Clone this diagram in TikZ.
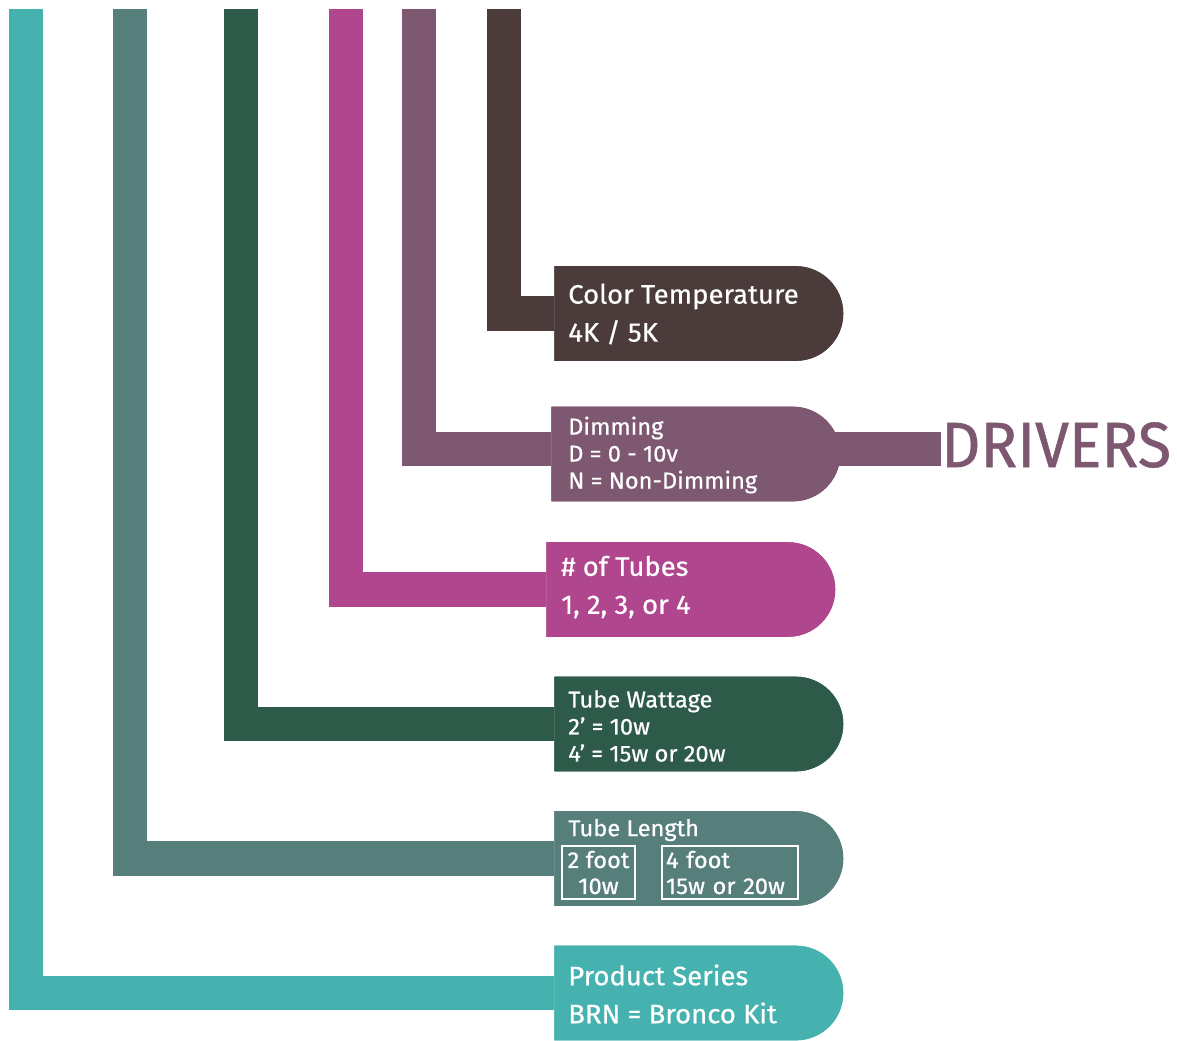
\documentclass[tikz,border=0pt]{standalone}
\usepackage{fontspec}
\setmainfont{Fira Sans}[FakeStretch=1.03, FakeBold=0.6]
\newfontfamily\drvfont{Fira Sans}[FakeStretch=0.95, FakeBold=0.8]
\usetikzlibrary{shapes.misc}
\definecolor{cteal}{HTML}{45B2B0}
\definecolor{cslate}{HTML}{567F7C}
\definecolor{cgreen}{HTML}{2E5A4A}
\definecolor{cmag}{HTML}{B0468E}
\definecolor{cpurp}{HTML}{7E5870}
\definecolor{cbrown}{HTML}{4B3B3B}
\tikzset{
  conn/.style={line width=25.8pt, line join=miter, line cap=butt},
  pill/.style={rounded rectangle, rounded rectangle left arc=none, inner sep=0pt,
    minimum width=216.75pt, minimum height=71pt, anchor=west, draw=none},
  bigtxt/.style={text=white, align=left, anchor=west, inner sep=0pt,
    font=\fontsize{20}{28.5}\selectfont},
  smalltxt/.style={text=white, align=left, anchor=west, inner sep=0pt,
    font=\fontsize{17.2}{20.25}\selectfont},
  subbox/.style={draw=white, line width=1.9pt, inner sep=0pt, text=white,
    font=\fontsize{17.2}{19.5}\selectfont, minimum height=39.75pt},
}
\begin{document}
\begin{tikzpicture}[x=0.75pt, y=-0.75pt]
\useasboundingbox[fill=white] (0,0) rectangle (1177,1040);
% top ends of the vertical bands
\coordinate (t1) at (26,9);
\coordinate (t2) at (130,9);
\coordinate (t3) at (241,9);
\coordinate (t4) at (346,9);
\coordinate (t5) at (419,9);
\coordinate (t6) at (504,9);
% boxes
\node[pill, fill=cbrown] (ct) at (554,313.5) {};
\node[pill, fill=cpurp]  (dim) at (551,454) {};
\node[pill, fill=cmag]   (tub) at (546,589.5) {};
\node[pill, fill=cgreen] (wat) at (554,724) {};
\node[pill, fill=cslate] (len) at (554,858.5) {};
\node[pill, fill=cteal]  (ser) at (554,993) {};
% connectors
\draw[conn, cbrown] (t6) |- (ct.west);
\draw[conn, cpurp]  (t5) |- ([yshift=3.75pt]dim.west);
\draw[conn, cmag]   (t4) |- (tub.west);
\draw[conn, cgreen] (t3) |- (wat.west);
\draw[conn, cslate] (t2) |- (len.west);
\draw[conn, cteal]  (t1) |- (ser.west);
% DRIVERS
\node[text=cpurp, anchor=west, inner sep=0pt, font=\drvfont\fontsize{48}{48}\selectfont] (drv) at (941,445) {DRIVERS};
\coordinate (dj) at (800,449);
\draw[conn, cpurp] (dj) -- (dj -| drv.west);
% redraw boxes on top
\node[pill, fill=cbrown] at (554,313.5) {};
\node[pill, fill=cpurp]  at (551,454) {};
\node[pill, fill=cmag]   at (546,589.5) {};
\node[pill, fill=cgreen] at (554,724) {};
\node[pill, fill=cslate] at (554,858.5) {};
\node[pill, fill=cteal]  at (554,993) {};
% texts
\node[bigtxt] (ctt) at (568,314) {Color Temperature\\4K / 5K};
\node[smalltxt] (dimt) at (568,455) {Dimming\\D = 0 - 10v\\N = Non-Dimming};
\node[bigtxt] (tubt) at (561,587) {\# of Tubes\\1, 2, 3, or 4};
\node[smalltxt] (watt) at (568,726) {Tube Wattage\\2’ = 10w\\4’ = 15w or 20w};
\node[smalltxt] (lent) at (568,830) {Tube Length};
\node[subbox, minimum width=54.75pt, align=center] (b2) at (598.5,872.5) {2 foot\\10w};
\node[subbox, minimum width=102pt, align=left, text width=96pt] (b4) at (730,872.5) {4 foot\\15w or 20w};
\node[bigtxt] (sert) at (568,994) {Product Series\\BRN = Bronco Kit};
\end{tikzpicture}
\end{document}
